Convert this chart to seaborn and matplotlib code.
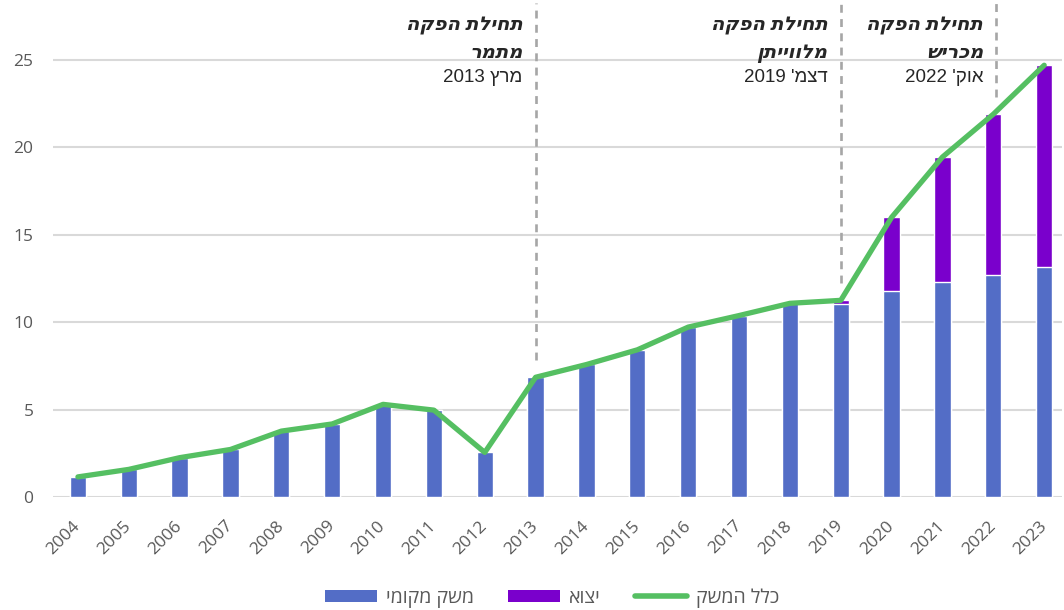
import matplotlib
matplotlib.use("Agg")
import matplotlib.pyplot as plt
import seaborn as sns
import pandas as pd
from matplotlib.lines import Line2D
from matplotlib.patches import Patch
import matplotlib.transforms as mtransforms

# ---------------- data ----------------
years = [str(y) for y in range(2004, 2024)]
local = [1.15, 1.58, 2.25, 2.72, 3.77, 4.18, 5.3, 4.97, 2.55, 6.85,
         7.58, 8.42, 9.72, 10.38, 11.08, 11.05, 11.8, 12.3, 12.7, 13.15]
export = [0, 0, 0, 0, 0, 0, 0, 0, 0, 0,
          0, 0, 0, 0, 0, 0.2, 4.2, 7.15, 9.2, 11.55]
series_names = ["משק מקומי", "יצוא", "כלל המשק"]
milestone_years = ["2013", "2019", "2022"]
milestone_titles = [["תחילת הפקה", "מתמר"], ["תחילת הפקה", "מלווייתן"], ["תחילת הפקה", "מכריש"]]
milestone_dates = ["מרץ 2013", "דצמ' 2019", "אוק' 2022"]

total = [a + b for a, b in zip(local, export)]
pos = list(range(len(years)))
df = pd.DataFrame({"year": years, "pos": pos, "local": local, "export": export, "total": total})


def rtl(s):
    """Simple visual reordering for Hebrew text with numbers."""
    words = s.split(" ")
    out = []
    for w in reversed(words):
        if any("\u0590" <= c <= "\u05FF" for c in w):
            out.append(w[::-1])
        else:
            out.append(w)
    return " ".join(out)


# ---------------- style ----------------
sns.set_theme(style="white")
plt.rcParams["font.family"] = ["Open Sans", "DejaVu Sans"]

C_LOCAL = "#536DC6"
C_EXPORT = "#7A00CC"
C_TOTAL = "#55BF62"
C_GRID = "#D9D9D9"
C_TEXT = "#595959"

fig = plt.figure(figsize=(10.64, 6.10), dpi=100)
W, H = 1064, 610
ax = fig.add_axes([53 / W, 1 - 497 / H, (1062 - 53) / W, (497 - 3) / H])

# stacked bars: total (purple) underneath, local (blue) on top
sns.barplot(data=df, x="year", y="total", color=C_EXPORT, width=0.32,
            saturation=1, ax=ax, zorder=2)
sns.barplot(data=df, x="year", y="local", color=C_LOCAL, width=0.32,
            saturation=1, ax=ax, zorder=3)
# total line
sns.lineplot(data=df, x="pos", y="total", color=C_TOTAL, linewidth=3.8,
             ax=ax, zorder=5, solid_capstyle="round", solid_joinstyle="round")

ax.set_xlim(-0.49, 19.35)
ax.set_ylim(0, 28.26)
ax.set_yticks([0, 5, 10, 15, 20, 25])
ax.yaxis.grid(True, color=C_GRID, linewidth=1.5, zorder=0)
ax.set_axisbelow(True)
for s in ax.spines.values():
    s.set_visible(False)
ax.set_xlabel("")
ax.set_ylabel("")
ax.tick_params(axis="y", length=0, pad=14, labelsize=12.5, labelcolor=C_TEXT)
ax.tick_params(axis="x", length=0, pad=19, labelsize=12.5, labelcolor=C_TEXT)
ax.set_xticks(pos)
ax.set_xticklabels(years, rotation=45, ha="right", rotation_mode="anchor", va="center")

# milestone dashed lines and annotations
trans = mtransforms.blended_transform_factory(ax.transData, ax.transAxes)
ann_font = ["Open Sans", "DejaVu Sans"]
offsets = [0, 0, 0.06]
for my, titles, date, off in zip(milestone_years, milestone_titles, milestone_dates, offsets):
    i = years.index(my)
    x = pos[i] + off
    ax.vlines(x, total[i] + 1.0, 28.26, colors="#A6A6A6", linestyles=(0, (3, 2.4)),
              linewidth=1.9, zorder=1)
    ax.annotate(rtl(titles[0]), xy=(x, 1), xycoords=trans, xytext=(-9.5, -16),
                textcoords="offset points", ha="right", va="center",
                fontsize=14, fontweight="bold", fontstyle="italic",
                family=ann_font, color="#262626")
    ax.annotate(rtl(titles[1]), xy=(x, 1), xycoords=trans, xytext=(-9.5, -36),
                textcoords="offset points", ha="right", va="center",
                fontsize=14, fontweight="bold", fontstyle="italic",
                family=ann_font, color="#262626")
    ax.annotate(rtl(date), xy=(x, 1), xycoords=trans, xytext=(-9.5, -54),
                textcoords="offset points", ha="right", va="center",
                fontsize=13.5, family=["Liberation Sans", "DejaVu Sans"], color="#262626")

# legend
handles = [
    Patch(facecolor=C_LOCAL, edgecolor="none"),
    Patch(facecolor=C_EXPORT, edgecolor="none"),
    Line2D([0], [0], color=C_TOTAL, linewidth=4, solid_capstyle="round"),
]
labels = [rtl(n) for n in series_names]
leg = fig.legend(handles, labels, loc="center", ncol=3,
                 bbox_to_anchor=(552 / W, 1 - 598 / H), frameon=False,
                 fontsize=14, handlelength=2.68, handleheight=0.55,
                 columnspacing=1.75, handletextpad=0.45)
for t in leg.get_texts():
    t.set_color(C_TEXT)

fig.savefig("out.png", dpi=100)
